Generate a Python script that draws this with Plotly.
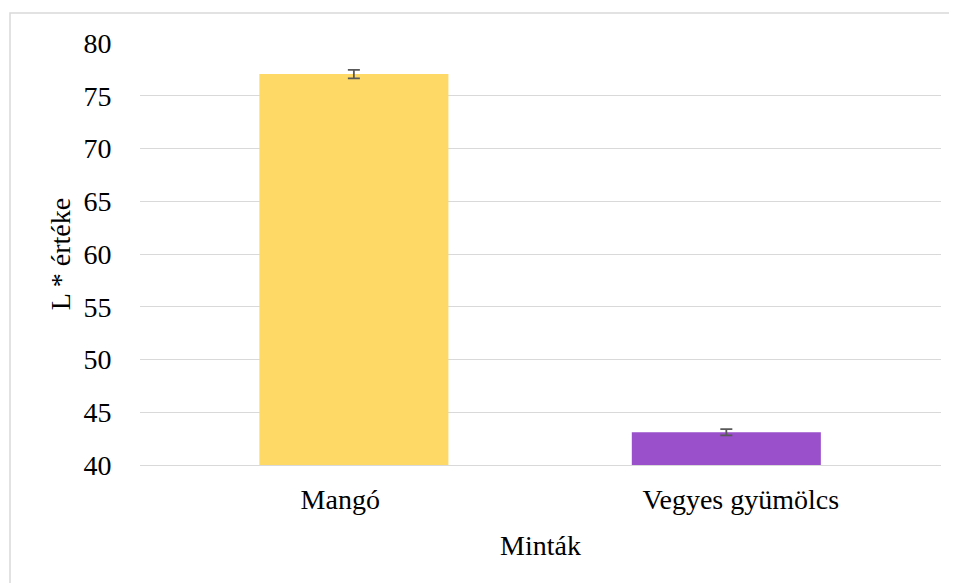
import plotly.graph_objects as go

categories = ["Mangó", "Vegyes gyümölcs"]
values = [77.05, 43.1]
errors = [0.4, 0.3]
colors = ["#FFD966", "#9A4FCB"]
y_ticks = [40, 45, 50, 55, 60, 65, 70, 75, 80]

bar_width = 0.472
bar_shift = [0.034, -0.036]
fig = go.Figure()
fig.add_trace(go.Bar(
    x=categories, y=values,
    marker=dict(color=colors, line=dict(width=0)),
    error_y=dict(type="data", array=errors, color="#595959", thickness=1.8, width=6),
    width=bar_width,
    offset=[-bar_width / 2 + s for s in bar_shift],
))

font = "Liberation Serif"
fig.update_layout(
    width=957, height=583,
    margin=dict(l=132, r=24, t=35, b=126),
    paper_bgcolor="white", plot_bgcolor="white",
    font=dict(family=font, size=28, color="#000000"),
    showlegend=False,
    xaxis=dict(
        title=dict(text="Minták", font=dict(family=font, size=28), standoff=21),
        showline=True, linecolor="#d9d9d9", linewidth=1,
        ticks="outside", ticklen=9, tickcolor="rgba(0,0,0,0)",
        tickfont=dict(family=font, size=28),
        range=[-0.5, 1.5],
    ),
    yaxis=dict(
        title=dict(text="L * értéke", font=dict(family=font, size=28), standoff=4),
        range=[40, 80], tickvals=y_ticks,
        showgrid=True, gridcolor="#d9d9d9", gridwidth=1,
        zeroline=False, showline=False, ticks="outside", ticklen=22,
        tickcolor="rgba(0,0,0,0)", tickfont=dict(family=font, size=28),
    ),
    shapes=[dict(
        type="rect", xref="paper", yref="paper",
        x0=-0.1623, x1=1.05, y0=-0.35, y1=1.0711,
        line=dict(color="#d9d9d9", width=1.5), fillcolor="rgba(0,0,0,0)",
        layer="below",
    )],
)

fig.write_html("out.html")
